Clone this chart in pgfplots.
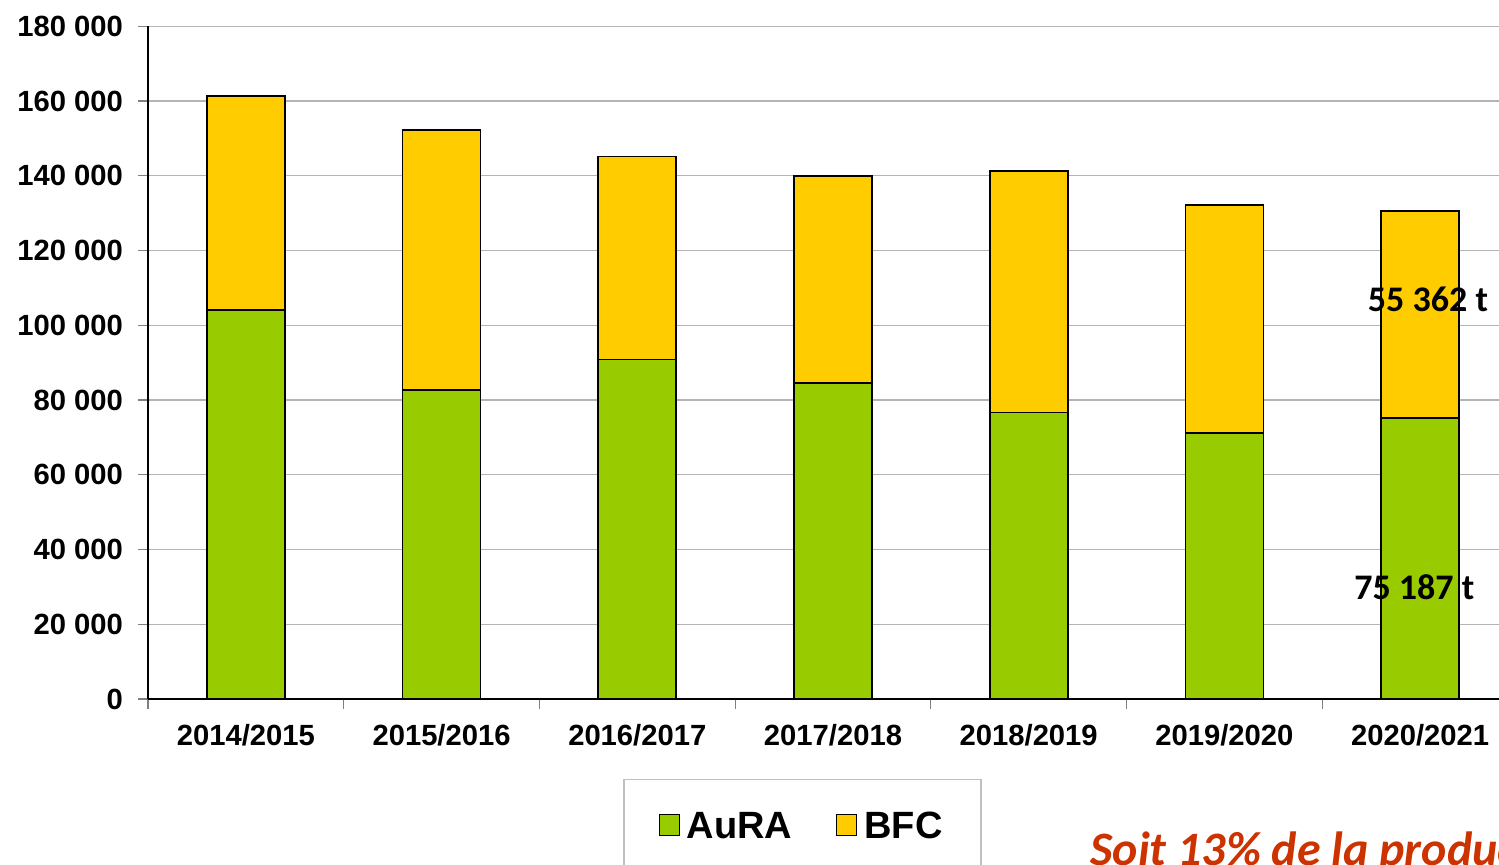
\documentclass[border=0pt]{standalone}
\usepackage{fontspec}
\setmainfont{Liberation Sans}
\newfontfamily\calib{Carlito}
\usepackage{pgfplots}
\pgfplotsset{compat=1.18}
\definecolor{aura}{HTML}{99CC00}
\definecolor{bfc}{HTML}{FFCC00}
\definecolor{gridgray}{HTML}{B4B4B4}
\definecolor{legendgray}{HTML}{C0C0C0}
\definecolor{soit}{HTML}{CC3300}

\begin{document}
\begin{tikzpicture}
\clip (0,0) rectangle (749.5pt,432pt);
\begin{axis}[
  at={(74pt,82.5pt)}, anchor=south west,
  scale only axis, width=675.5pt, height=336.4pt,
  ybar stacked, bar width=39pt,
  xmin=-0.5, xmax=6.403, ymin=0, ymax=180000,
  ytick={0,20000,40000,60000,80000,100000,120000,140000,160000,180000},
  yticklabels={0,20 000,40 000,60 000,80 000,100 000,120 000,140 000,160 000,180 000},
  scaled y ticks=false,
  xtick={0,...,6},
  xticklabels={2014/2015,2015/2016,2016/2017,2017/2018,2018/2019,2019/2020,2020/2021},
  minor xtick={-0.5,0.5,1.5,2.5,3.5,4.5,5.5},
  axis x line*=bottom, axis y line*=left,
  axis line style={black, line width=0.7pt, -},
  ymajorgrids, grid style={gridgray, line width=0.7pt},
  tick align=outside, major tick length=5pt, minor tick length=5pt,
  major x tick style={draw=none},
  minor x tick style={gray, line width=0.6pt},
  ytick style={gray, line width=0.6pt},
  tick label style={font=\fontsize{14.6}{16}\selectfont\bfseries},
  yticklabel style={xshift=-4pt},
  xticklabel style={yshift=-4pt},
  every axis plot/.append style={draw=black, line width=0.8pt},
  legend columns=2,
  legend style={at={(0.4845,-0.1185)}, anchor=north, draw=legendgray, line width=0.6pt,
    font=\fontsize{19}{22}\selectfont\bfseries,
    inner xsep=17.25pt, inner ysep=14.5pt,
    /tikz/every odd column/.append style={column sep=1.5pt},
    /tikz/every even column/.append style={column sep=20pt}},
  legend image code/.code={\draw[#1, draw=black, line width=0.6pt] (0pt,-4pt) rectangle (10pt,6.5pt);},
]
\addplot[fill=aura] coordinates {(0,104100) (1,82700) (2,90800) (3,84500) (4,76700) (5,71100) (6,75187)};
\addlegendentry{AuRA}
\addplot[fill=bfc] coordinates {(0,57300) (1,69600) (2,54300) (3,55500) (4,64600) (5,61100) (6,55362)};
\addlegendentry{BFC}
\coordinate (lblBFC) at (axis cs:6.04,106800);
\coordinate (lblAuRA) at (axis cs:5.97,29900);
\end{axis}
\node[font=\calib\fontsize{18}{20}\selectfont\bfseries] at (lblBFC) {55 362 t};
\node[font=\calib\fontsize{18}{20}\selectfont\bfseries] at (lblAuRA) {75 187 t};
\node[anchor=base west, text=soit, inner sep=0pt, font=\calib\fontsize{24}{28}\selectfont\bfseries\itshape] at (545pt,-0.5pt) {Soit 13\% de la production};
\end{tikzpicture}
\end{document}
